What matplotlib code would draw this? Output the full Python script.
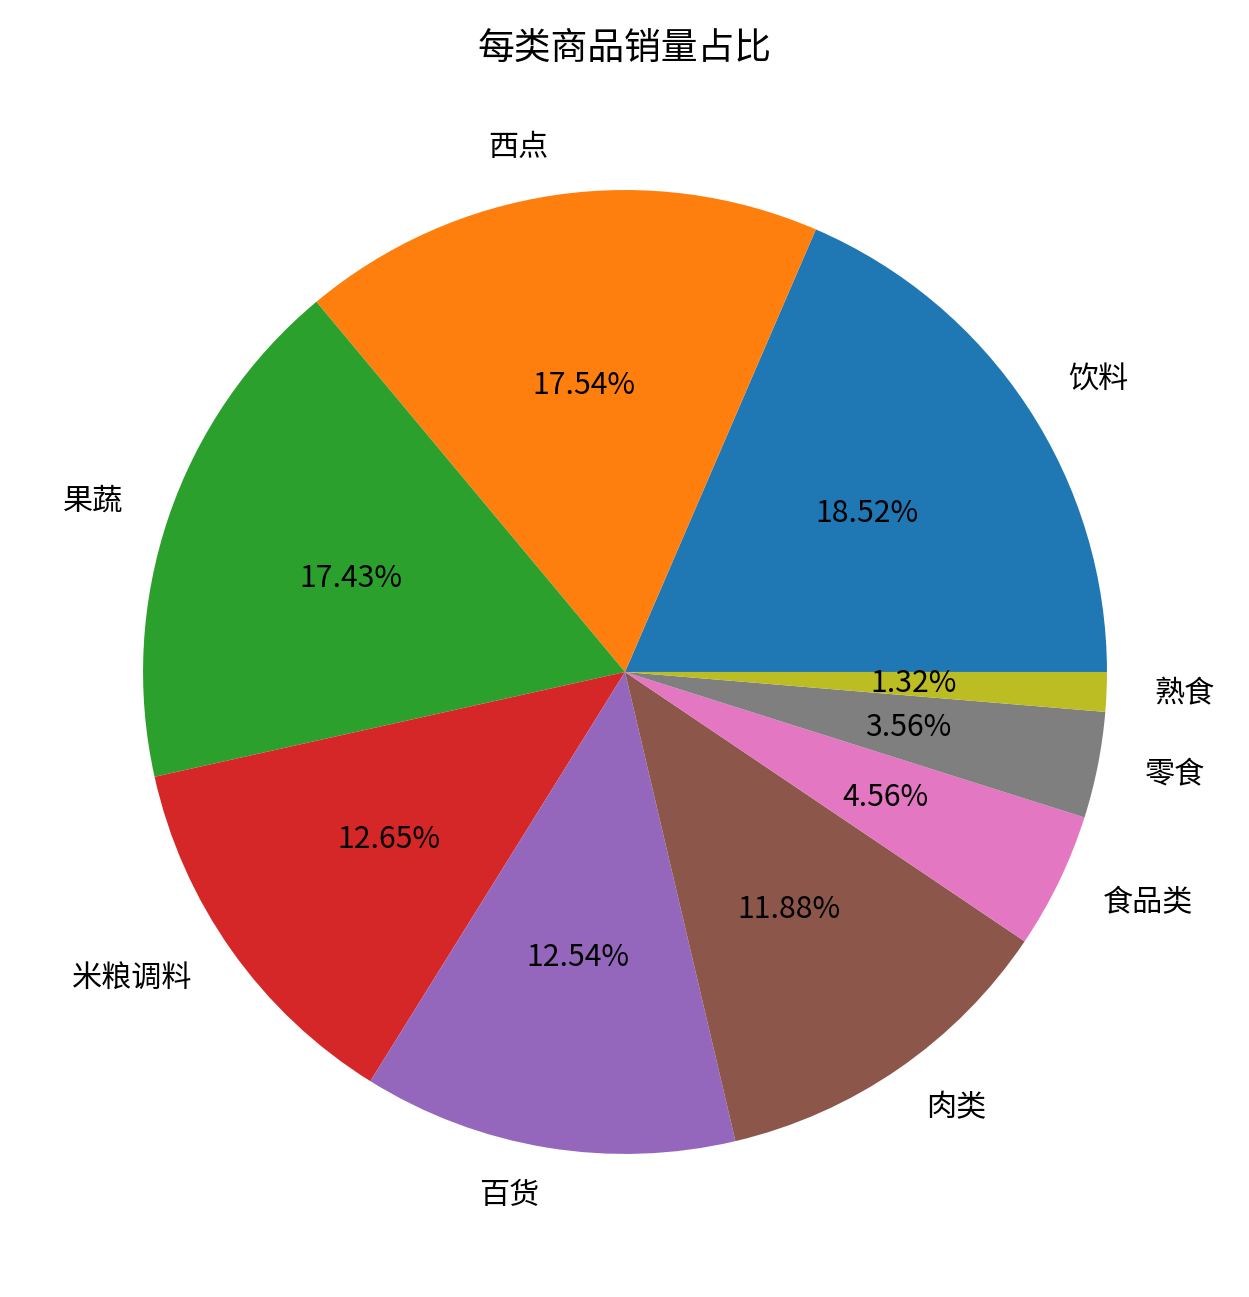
import matplotlib
matplotlib.use('Agg')
import matplotlib.pyplot as plt

plt.rcParams['font.family'] = ['Noto Sans CJK SC', 'DejaVu Sans']

# 每类商品销量占比
categories = ['饮料', '西点', '果蔬', '米粮调料', '百货', '肉类', '食品类', '零食', '熟食']
shares = [18.52, 17.54, 17.43, 12.65, 12.54, 11.88, 4.56, 3.56, 1.32]

fig = plt.figure(figsize=(12.49, 12.97), dpi=100)
ax = fig.add_axes([0.018, 0.0174, 0.9648, 0.929])
ax.pie(shares, labels=categories, autopct='%.2f%%',
       textprops={'fontsize': 21.7})
ax.set_aspect('equal')
ax.set_title('每类商品销量占比', fontsize=26.5, pad=8)

fig.savefig('out.png', dpi=100)
